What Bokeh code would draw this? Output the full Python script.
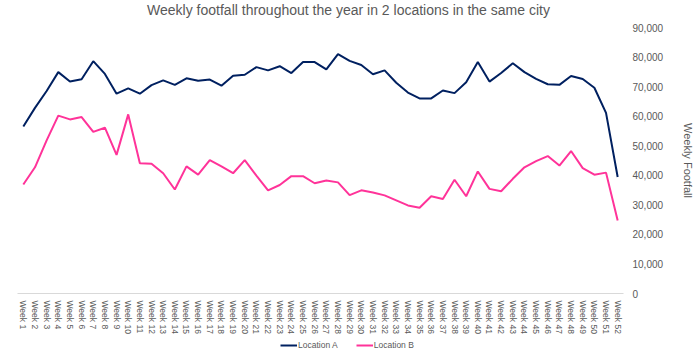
from bokeh.plotting import figure
from bokeh.layouts import column
from bokeh.models import (FactorRange, Range1d, Legend, LegendItem, Label,
                          SingleIntervalTicker, NumeralTickFormatter)
from bokeh.embed import file_html
from bokeh.resources import INLINE

weeks = [f"Week {i}" for i in range(1, 53)]

location_a = [56500, 62800, 68500, 74900, 71700, 72500, 78600, 74300, 67600, 69400,
              67600, 70500, 72100, 70600, 72800, 72000, 72400, 70300, 73700, 74000,
              76600, 75500, 76900, 74600, 78300, 78300, 75800, 81000, 78700, 77300,
              74200, 75500, 71300, 68000, 66000, 66000, 68700, 67800, 71500, 78300,
              71700, 74600, 77900, 74900, 72600, 70800, 70600, 73600, 72600, 69600,
              61100, 39400]

location_b = [36900, 42700, 51800, 60200, 58900, 59700, 54700, 56100, 46900, 60600,
              44100, 43900, 40700, 35200, 43000, 40200, 45100, 43000, 40700, 45100,
              39900, 34900, 36700, 39700, 39700, 37300, 38200, 37600, 33300, 34900,
              34200, 33200, 31500, 29800, 29000, 32900, 32000, 38500, 32900, 41300,
              35400, 34600, 38800, 42700, 44800, 46500, 43300, 48200, 42400, 40200,
              40900, 24700]

series_names = ["Location A", "Location B"]
title_text = "Weekly footfall throughout the year in 2 locations in the same city"
y_title = "Weekly Footfall"

FONT = "Liberation Sans"
GREY = "#595959"
NAVY = "#002060"
PINK = "#FF3399"

# title strip
tt = figure(width=700, height=19, x_range=Range1d(0, 1), y_range=Range1d(0, 1),
            x_axis_type=None, y_axis_type=None,
            output_backend="svg", toolbar_location=None, min_border=0)
tt.outline_line_color = None
tt.xgrid.grid_line_color = None
tt.ygrid.grid_line_color = None
tt.add_layout(Label(x=331, y=10, x_units="screen", y_units="screen",
                    text=title_text, text_align="center",
                    text_baseline="alphabetic",
                    text_font=FONT, text_font_size="14px", text_color=GREY))

# main chart
p = figure(width=700, height=320,
           x_range=FactorRange(*weeks, range_padding=0),
           y_range=Range1d(0, 90000),
           y_axis_location="right",
           output_backend="svg", toolbar_location=None,
           min_border_left=17, min_border_top=8, min_border_bottom=46,
           min_border_right=77)
p.outline_line_color = None
p.xgrid.grid_line_color = None
p.ygrid.grid_line_color = None

ra = p.line(weeks, location_a, line_color=NAVY, line_width=2)
rb = p.line(weeks, location_b, line_color=PINK, line_width=2)

xa = p.xaxis[0]
xa.axis_line_color = "#D9D9D9"
xa.major_tick_line_color = None
xa.minor_tick_line_color = None
xa.major_tick_out = 0
xa.major_tick_in = 0
xa.major_label_standoff = 7
xa.major_label_orientation = "vertical"
xa.major_label_text_font = FONT
xa.major_label_text_font_size = "8.5px"
xa.major_label_text_color = GREY

ya = p.yaxis[0]
ya.ticker = SingleIntervalTicker(interval=10000)
ya.formatter = NumeralTickFormatter(format="0,0")
ya.axis_line_color = None
ya.major_tick_line_color = None
ya.minor_tick_line_color = None
ya.major_tick_out = 0
ya.major_tick_in = 0
ya.major_label_standoff = 5
ya.major_label_text_font = FONT
ya.major_label_text_font_size = "10px"
ya.major_label_text_color = GREY
ya.axis_label = y_title
ya.axis_label_text_font = FONT
ya.axis_label_text_font_size = "11px"
ya.axis_label_text_font_style = "normal"
ya.axis_label_text_color = GREY
ya.axis_label_standoff = 16

# legend strip below the chart (series drawn off-range so only the key shows)
lg = figure(width=700, height=16,
            x_range=FactorRange(*weeks, range_padding=0),
            y_range=Range1d(-2, -1),
            x_axis_type=None, y_axis_type=None,
            output_backend="svg", toolbar_location=None,
            min_border=0)
lg.outline_line_color = None
lg.xgrid.grid_line_color = None
lg.ygrid.grid_line_color = None
la = lg.line(weeks, location_a, line_color=NAVY, line_width=2)
lb = lg.line(weeks, location_b, line_color=PINK, line_width=2)

legend = Legend(items=[LegendItem(label=series_names[0], renderers=[la]),
                       LegendItem(label=series_names[1], renderers=[lb])],
                orientation="horizontal", location=(263, 4),
                padding=0, margin=0, spacing=18,
                glyph_width=17, glyph_height=12, label_height=12,
                label_standoff=1,
                label_text_font=FONT, label_text_font_size="8.5px",
                label_text_color=GREY,
                border_line_alpha=0, background_fill_alpha=0)
lg.add_layout(legend)

layout = column(tt, p, lg, spacing=0)
open("out.html", "w").write(file_html(layout, INLINE))
